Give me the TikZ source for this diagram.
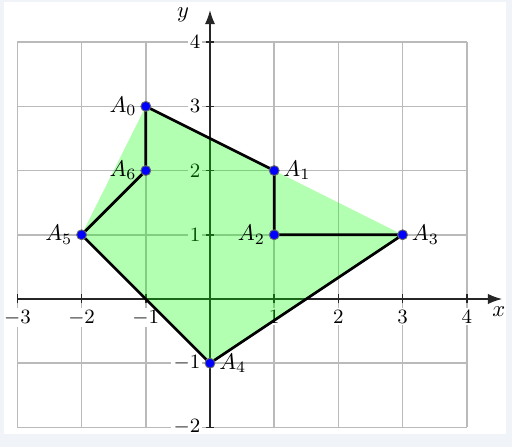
\documentclass[tikz,border=0pt]{standalone}
\usetikzlibrary{arrows.meta}
\definecolor{pagebg}{HTML}{F0F3F7}
\begin{document}
\begin{tikzpicture}[x=1cm,y=1cm,
  gridline/.style={black!27, line width=0.75pt},
  axisline/.style={black!85, line width=0.65pt, -{Latex[length=2.2mm,width=1.6mm]}},
  tickmark/.style={black!85, line width=0.65pt},
  ticklab/.style={fill=white, inner sep=1pt, font=\small},
  hull/.style={fill=green, fill opacity=0.3},
  polyedge/.style={line width=1.2pt, line join=round},
  pt/.style={circle, fill=blue, draw=black!60, line width=0.4pt, inner sep=0pt, minimum size=4.4pt},
  ptlab/.style={inner sep=1.5pt}
]
\fill[white] (-3.271,-2.305) rectangle (4.704,4.657);
\useasboundingbox (-3.271,-2.305) rectangle (4.704,4.657);
\draw[gridline] (-3,-2) grid (4,4);
% axes
\coordinate (xs) at (-3,0);
\coordinate (xe) at (4.55,0);
\coordinate (ys) at (0,-2);
\coordinate (ye) at (0,4.5);
\draw[axisline] (xs) -- (xe);
\draw[axisline] (ys) -- (ye);
\node[inner sep=0pt] (xlab) at (4.5,-0.2) {$x$};
\node[inner sep=0pt] (ylab) at (-0.42,4.43) {$y$};
\foreach \x in {-3,-2,-1,1,2,3,4} {
  \draw[tickmark] (\x,-0.07) -- (\x,0.07);
  \node[ticklab, anchor=north] (tx\x) at (\x,-0.13) {$\x$};
}
\foreach \y in {-2,-1,1,2,3,4} {
  \draw[tickmark] (-0.07,\y) -- (0.07,\y);
  \node[ticklab, anchor=east] (ty\y) at (-0.11,\y) {$\y$};
}
% points
\coordinate (A0) at (-1,3);
\coordinate (A1) at (1,2);
\coordinate (A2) at (1,1);
\coordinate (A3) at (3,1);
\coordinate (A4) at (0,-1);
\coordinate (A5) at (-2,1);
\coordinate (A6) at (-1,2);
\fill[hull] (A0) -- (A3) -- (A4) -- (A5) -- cycle;
\draw[polyedge] (A0) -- (A1) -- (A2) -- (A3) -- (A4) -- (A5) -- (A6) -- cycle;
\foreach \p in {A0,A1,A2,A3,A4,A5,A6} {
  \node[pt] (n\p) at (\p) {};
}
\node[ptlab, anchor=east] (l0) at (nA0.west) {$A_0$};
\node[ptlab, anchor=west] (l1) at (nA1.east) {$A_1$};
\node[ptlab, anchor=east] (l2) at (nA2.west) {$A_2$};
\node[ptlab, anchor=west] (l3) at (nA3.east) {$A_3$};
\node[ptlab, anchor=west] (l4) at (nA4.east) {$A_4$};
\node[ptlab, anchor=east] (l5) at (nA5.west) {$A_5$};
\node[ptlab, anchor=east] (l6) at (nA6.west) {$A_6$};
% page frame
\fill[pagebg, even odd rule] (-3.271,-2.305) rectangle (4.704,4.657)
  (-3.209,-2.103) rectangle (4.611,4.626);
\end{tikzpicture}
\end{document}
